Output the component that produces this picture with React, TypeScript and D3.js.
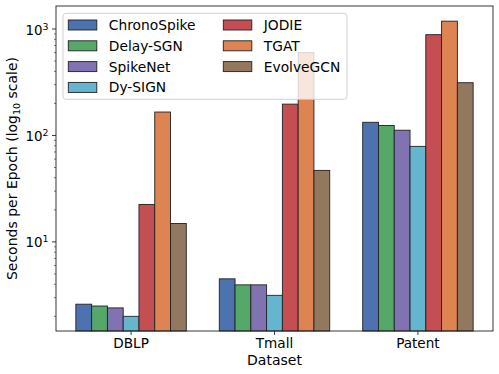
import React, { useEffect, useRef } from 'react'
import * as d3 from 'd3'

const datasets = ['DBLP', 'Tmall', 'Patent']
const methods = ['ChronoSpike', 'Delay-SGN', 'SpikeNet', 'Dy-SIGN', 'JODIE', 'TGAT', 'EvolveGCN']
const colors = ['#4c72b0', '#55a868', '#8172b2', '#64b5cd', '#c44e52', '#dd8452', '#937860']

// seconds per epoch, one array per method (DBLP, Tmall, Patent)
const chronoSpike = [2.6, 4.5, 133]
const delaySGN = [2.5, 3.95, 124]
const spikeNet = [2.4, 3.95, 112]
const dySIGN = [2.0, 3.15, 79]
const jodie = [22.5, 197, 885]
const tgat = [166, 600, 1185]
const evolveGCN = [14.9, 47, 313]
const values = [chronoSpike, delaySGN, spikeNet, dySIGN, jodie, tgat, evolveGCN]

const yTicks = [10, 100, 1000]

export default function App() {
  const ref = useRef<SVGSVGElement>(null)

  useEffect(() => {
    const width = 499, height = 374
    const left = 56, right = 493, top = 6, bottom = 331
    const font = 'DejaVu Sans'
    const barW = 0.11

    const svg = d3.select(ref.current)
    svg.selectAll('*').remove()
    svg.attr('width', width).attr('height', height)

    const x = d3.scaleLinear().domain([-0.5235, 2.5235]).range([left, right])
    const y = d3.scaleLog().domain([1.456, 1645]).range([bottom, top])

    // bars
    const g = svg.append('g')
    values.forEach((vals, j) => {
      g.selectAll(null)
        .data(vals)
        .enter()
        .append('rect')
        .attr('x', (d, i) => x(i + (j - 3) * barW - barW / 2))
        .attr('width', x(barW) - x(0))
        .attr('y', d => y(d))
        .attr('height', d => bottom - y(d))
        .attr('fill', colors[j])
        .attr('stroke', '#222')
        .attr('stroke-width', 0.9)
    })

    // axes frame
    svg.append('rect')
      .attr('x', left).attr('y', top)
      .attr('width', right - left).attr('height', bottom - top)
      .attr('fill', 'none').attr('stroke', '#222').attr('stroke-width', 0.9)

    // x ticks
    datasets.forEach((name, i) => {
      svg.append('line')
        .attr('x1', x(i)).attr('x2', x(i))
        .attr('y1', bottom).attr('y2', bottom + 4)
        .attr('stroke', '#222').attr('stroke-width', 0.9)
      svg.append('text')
        .attr('x', x(i)).attr('y', bottom + 17)
        .attr('text-anchor', 'middle')
        .attr('font-family', font).attr('font-size', 13.6)
        .text(name)
    })

    // y minor ticks
    const minors: number[] = []
    ;[1, 10, 100, 1000].forEach(base => {
      for (let k = 2; k <= 9; k++) {
        const v = base * k
        if (v >= 1.456 && v <= 1645) minors.push(v)
      }
    })
    minors.forEach(v => {
      svg.append('line')
        .attr('x1', left - 2).attr('x2', left)
        .attr('y1', y(v)).attr('y2', y(v))
        .attr('stroke', '#222').attr('stroke-width', 0.6)
    })

    // y major ticks
    yTicks.forEach(v => {
      svg.append('line')
        .attr('x1', left - 4).attr('x2', left)
        .attr('y1', y(v)).attr('y2', y(v))
        .attr('stroke', '#222').attr('stroke-width', 0.9)
      const t = svg.append('text')
        .attr('x', left - 7.5).attr('y', y(v) + 5.5)
        .attr('text-anchor', 'end')
        .attr('font-family', font).attr('font-size', 13.4)
      t.append('tspan').text('10')
      t.append('tspan').attr('dy', -5).attr('font-size', 9.4).text(String(Math.round(Math.log10(v))))
    })

    // axis labels
    svg.append('text')
      .attr('x', (left + right) / 2).attr('y', 365)
      .attr('text-anchor', 'middle')
      .attr('font-family', font).attr('font-size', 14)
      .text('Dataset')

    const yl = svg.append('text')
      .attr('transform', `translate(17,${(top + bottom) / 2}) rotate(-90)`)
      .attr('text-anchor', 'middle')
      .attr('font-family', font).attr('font-size', 14)
    yl.append('tspan').text('Seconds per Epoch (log')
    yl.append('tspan').attr('dy', 3).attr('font-size', 9.5).text('10')
    yl.append('tspan').attr('dy', -3).text(' scale)')

    // legend
    const leg = svg.append('g')
    leg.append('rect')
      .attr('x', 63).attr('y', 13.3).attr('width', 284).attr('height', 86)
      .attr('rx', 3)
      .attr('fill', 'white').attr('fill-opacity', 0.8)
      .attr('stroke', '#ccc').attr('stroke-width', 0.9)
    methods.forEach((m, j) => {
      const col = j < 4 ? 0 : 1
      const row = j < 4 ? j : j - 4
      const lx = col === 0 ? 68.3 : 223.3
      const ly = 25 + row * 20.8
      leg.append('rect')
        .attr('x', lx).attr('y', ly - 5)
        .attr('width', 28.5).attr('height', 10)
        .attr('fill', colors[j]).attr('stroke', '#222').attr('stroke-width', 0.9)
      leg.append('text')
        .attr('x', lx + 40.5).attr('y', ly + 5)
        .attr('font-family', font).attr('font-size', 13.8)
        .text(m)
    })
  }, [])

  return <svg ref={ref} style={{ position: 'absolute', left: 0, top: 0 }}></svg>
}
